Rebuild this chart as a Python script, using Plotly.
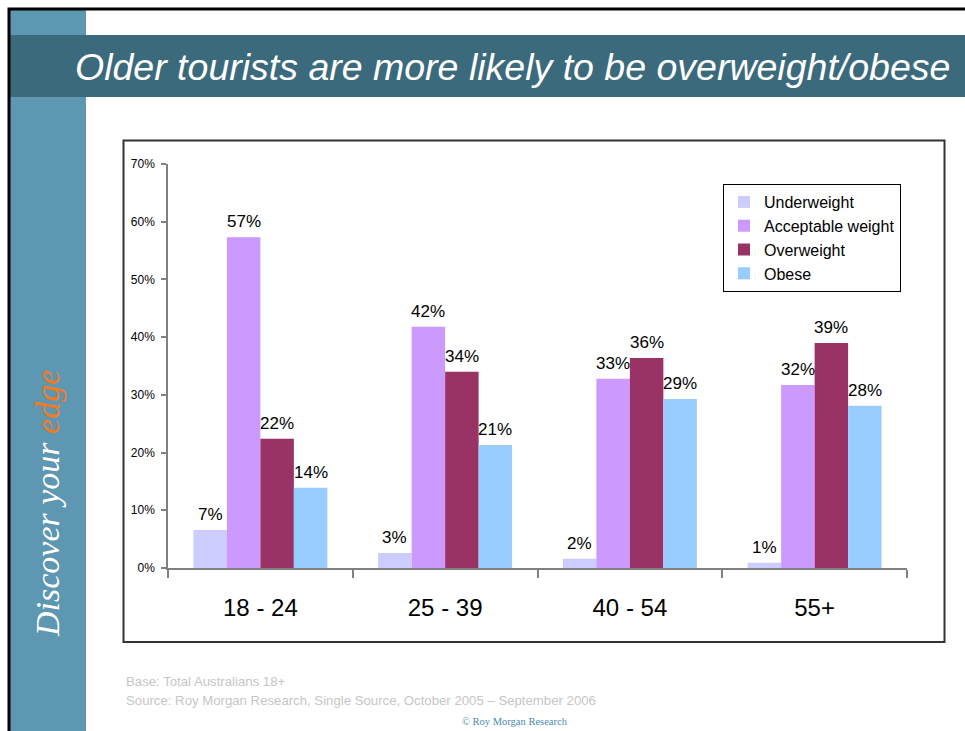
import plotly.graph_objects as go

# Age groups and share of tourists (%) in each weight class
age_groups = ["18 - 24", "25 - 39", "40 - 54", "55+"]
underweight = [6.6, 2.6, 1.6, 0.9]
acceptable = [57.3, 41.8, 32.8, 31.7]
overweight = [22.4, 34.0, 36.4, 39.0]
obese = [13.9, 21.3, 29.3, 28.1]

series_names = ["Underweight", "Acceptable weight", "Overweight", "Obese"]
series_values = [underweight, acceptable, overweight, obese]
series_colors = ["#ccccff", "#cc99ff", "#993366", "#99ccff"]

y_tick_vals = [0, 10, 20, 30, 40, 50, 60, 70]
y_tick_text = ["0%", "10%", "20%", "30%", "40%", "50%", "60%", "70%"]

W, H = 965, 731
PL, PR, PT, PB = 168, 907, 164, 568   # plot area edges in pixels
BARGAP = 0.275


def px_x(p):
    return (p - PL) / (PR - PL)


def px_y(p):
    return (PB - p) / (PB - PT)


fig = go.Figure()
for name, vals, col in zip(series_names, series_values, series_colors):
    fig.add_trace(go.Bar(
        x=age_groups, y=vals, name=name,
        marker=dict(color=col, line=dict(width=0)),
    ))

# value labels above each bar, shifted to the bar's slot within its group
n_series = len(series_names)
bar_px = (PR - PL) / len(age_groups) * (1 - BARGAP) / n_series
label_annotations = []
for i, vals in enumerate(series_values):
    for cat, v in zip(age_groups, vals):
        label_annotations.append(dict(
            x=cat, y=v, xref="x", yref="y", text=f"{v:.0f}%",
            xanchor="center", yanchor="bottom", showarrow=False,
            xshift=(i - (n_series - 1) / 2) * bar_px, yshift=4,
            font=dict(family="Liberation Sans, Arial", size=17, color="#000000"),
        ))

shapes = [
    # left sidebar
    dict(type="rect", xref="paper", yref="paper",
         x0=px_x(10), x1=px_x(86), y0=px_y(731), y1=px_y(10),
         fillcolor="#5d97b1", line=dict(width=0), layer="below"),
    # title banner
    dict(type="rect", xref="paper", yref="paper",
         x0=px_x(10), x1=px_x(966), y0=px_y(97), y1=px_y(35),
         fillcolor="#3b6a7c", line=dict(width=0), layer="below"),
    # slide frame (left and top)
    dict(type="path", xref="paper", yref="paper",
         path=f"M {px_x(9)} {px_y(732)} L {px_x(9)} {px_y(9)} L {px_x(966)} {px_y(9)}",
         line=dict(color="#000000", width=3), layer="below"),
    # chart frame
    dict(type="rect", xref="paper", yref="paper",
         x0=px_x(123.5), x1=px_x(944.5), y0=px_y(642), y1=px_y(140.5),
         line=dict(color="#333333", width=2), fillcolor="rgba(0,0,0,0)", layer="below"),
]

annotations = [
    dict(text="<i>Older tourists are more likely to be overweight/obese</i>",
         xref="paper", yref="paper", x=px_x(73), y=px_y(67),
         xanchor="left", yanchor="middle", showarrow=False,
         font=dict(family="Liberation Sans, Arial", size=37.5, color="#ffffff")),
    dict(text="<i>Discover your <span style='color:#f47a20'>edge</span></i>",
         xref="paper", yref="paper", x=px_x(47), y=px_y(504),
         xanchor="center", yanchor="middle", textangle=-90, showarrow=False,
         font=dict(family="Liberation Serif, Times New Roman", size=34, color="#ffffff")),
    dict(text="Base: Total Australians 18+",
         xref="paper", yref="paper", x=px_x(124), y=px_y(681),
         xanchor="left", yanchor="middle", showarrow=False,
         font=dict(family="Liberation Sans, Arial", size=13.2, color="#c6c6c6")),
    dict(text="Source: Roy Morgan Research, Single Source, October 2005 \u2013 September 2006",
         xref="paper", yref="paper", x=px_x(124), y=px_y(700),
         xanchor="left", yanchor="middle", showarrow=False,
         font=dict(family="Liberation Sans, Arial", size=13.2, color="#c6c6c6")),
    dict(text="\u00a9 Roy Morgan Research",
         xref="paper", yref="paper", x=px_x(515), y=px_y(721),
         xanchor="center", yanchor="middle", showarrow=False,
         font=dict(family="Liberation Serif, Times New Roman", size=10.5, color="#4a89b0")),
] + label_annotations

fig.update_layout(
    width=W, height=H,
    margin=dict(l=PL, r=W - PR, t=PT, b=H - PB, pad=0),
    paper_bgcolor="#ffffff", plot_bgcolor="#ffffff",
    barmode="group", bargap=BARGAP, bargroupgap=0,
    showlegend=True,
    legend=dict(x=px_x(723), y=px_y(184), xanchor="left", yanchor="top",
                bgcolor="#ffffff", bordercolor="#000000", borderwidth=1,
                font=dict(family="Liberation Sans, Arial", size=16, color="#000000"),
                traceorder="normal", itemclick=False, itemwidth=30),
    shapes=shapes, annotations=annotations,
    font=dict(family="Liberation Sans, Arial", color="#000000"),
)

fig.update_xaxes(
    type="category", showline=True, linecolor="#808080", linewidth=1.5,
    ticks="outside", tickson="boundaries", ticklen=8, tickcolor="#808080", tickwidth=1.5,
    tickfont=dict(family="Liberation Sans, Arial", size=24, color="#000000"),
    ticklabelstandoff=17,
    showgrid=False, zeroline=False,
)
fig.update_yaxes(
    range=[0, 70], tickmode="array", tickvals=y_tick_vals, ticktext=y_tick_text,
    showline=True, linecolor="#808080", linewidth=1.5,
    ticks="outside", ticklen=5, tickcolor="#808080", tickwidth=1.5,
    tickfont=dict(family="Liberation Sans, Arial", size=12, color="#000000"),
    ticklabelstandoff=4,
    showgrid=False, zeroline=False,
)

fig.write_html("out.html")
